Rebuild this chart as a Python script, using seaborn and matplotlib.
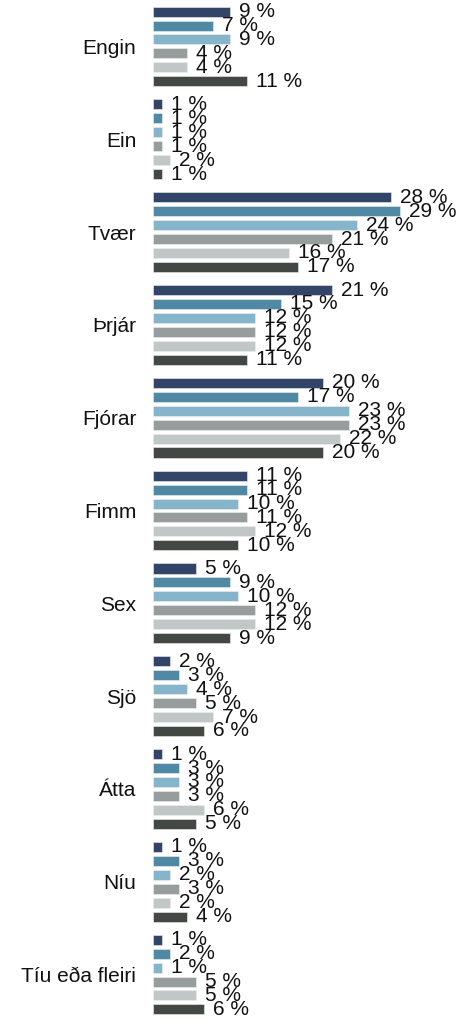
import pandas as pd
import seaborn as sns
import matplotlib.pyplot as plt

# Data
categories = ['Engin', 'Ein', 'Tvær', 'Þrjár', 'Fjórar', 'Fimm', 'Sex', 'Sjö', 'Átta', 'Níu', 'Tíu eða fleiri']
series = ['Hópur 1', 'Hópur 2', 'Hópur 3', 'Hópur 4', 'Hópur 5', 'Hópur 6']
values = {
    'Hópur 1': [9, 1, 28, 21, 20, 11, 5, 2, 1, 1, 1],
    'Hópur 2': [7, 1, 29, 15, 17, 11, 9, 3, 3, 3, 2],
    'Hópur 3': [9, 1, 24, 12, 23, 10, 10, 4, 3, 2, 1],
    'Hópur 4': [4, 1, 21, 12, 23, 11, 12, 5, 3, 3, 5],
    'Hópur 5': [4, 2, 16, 12, 22, 12, 12, 7, 6, 2, 5],
    'Hópur 6': [11, 1, 17, 11, 20, 10, 9, 6, 5, 4, 6],
}
colors = ['#324568', '#4f89a3', '#86b5cb', '#979c9d', '#c1c7c6', '#434845']

rows = []
for s in series:
    for c, v in zip(categories, values[s]):
        rows.append({'Flokkur': c, 'Hópur': s, 'Hlutfall': v})
df = pd.DataFrame(rows)

sns.set_style('white')
plt.rcParams['font.family'] = ['Liberation Sans', 'DejaVu Sans']

fig = plt.figure(figsize=(4.62, 10.21), dpi=100)
ax = fig.add_axes([153 / 462, 0.0, 1 - 153 / 462, 1.0])

sns.barplot(data=df, y='Flokkur', x='Hlutfall', hue='Hópur', orient='h',
            palette=colors, width=0.9, gap=0.28, legend=False, ax=ax,
            edgecolor='#eeeeee', linewidth=0.4, saturation=1)

for cont, s in zip(ax.containers, series):
    ax.bar_label(cont, labels=[f'{v} %' for v in values[s]], padding=6.5,
                 fontsize=15, color='#111111')

ax.set_xlim(0, 36.3)
ax.set_ylim(len(categories) - 0.5, -0.5)
ax.set_xlabel('')
ax.set_ylabel('')
ax.set_xticks([])
ax.tick_params(axis='y', length=0, labelsize=15, pad=12, labelcolor='#111111')
sns.despine(ax=ax, left=True, bottom=True)

fig.savefig('out.png', dpi=100)
